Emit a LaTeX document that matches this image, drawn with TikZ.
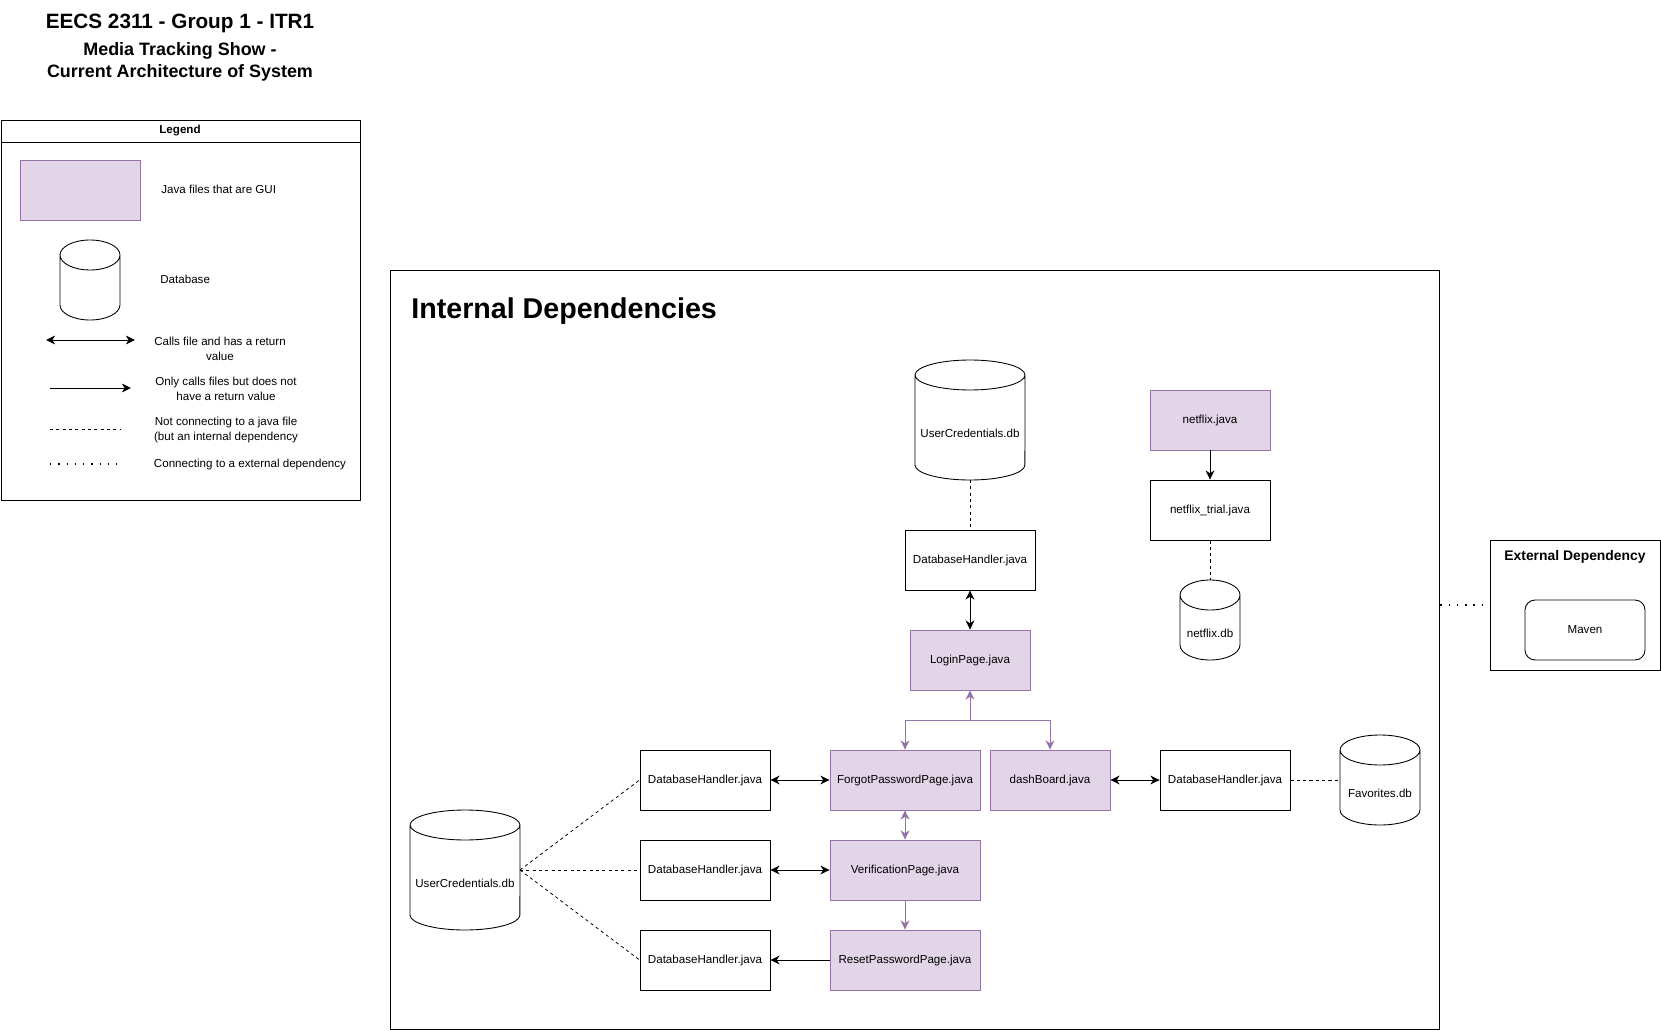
\documentclass[tikz,border=0pt]{standalone}
\usepackage{fontspec}
\setmainfont{Liberation Sans}
\usetikzlibrary{calc}
\usetikzlibrary{arrows.meta}
\usetikzlibrary{positioning}

\definecolor{guifill}{HTML}{E1D5E7}
\definecolor{guiline}{HTML}{9673A6}

\tikzset{
  jfile/.style={draw, line width=0.5pt, minimum width=2.6cm, minimum height=1.2cm, inner sep=1pt, font=\fontsize{6.6}{8}\selectfont},
  gui/.style={jfile, fill=guifill, draw=guiline},
  frame/.style={draw, line width=0.5pt, inner sep=0pt},
  lgtext/.style={font=\fontsize{6.6}{8.5}\selectfont, inner sep=0pt},
  dbbox/.style={rectangle, inner sep=0pt, outer sep=0pt},
  dbline/.style={line width=0.5pt},
  tip/.style={>={Stealth[length=5.2pt, width=5pt, inset=1.6pt]}},
  both/.style={<->, tip, line width=0.55pt},
  one/.style={->, tip, line width=0.55pt},
  pboth/.style={both, draw=guiline},
  pone/.style={one, draw=guiline},
  dashline/.style={line width=0.45pt, dash pattern=on 1.8pt off 1.8pt},
  dotline/.style={line width=0.8pt, dash pattern=on 0.8pt off 3.9pt}
}

% database cylinder: name, centre x, centre y, width, height, label
\newcommand{\dbcyl}[6]{%
  \pgfmathsetmacro{\dbw}{#4*0.02}
  \pgfmathsetmacro{\dbh}{#5*0.02}
  \pgfmathsetmacro{\dbrx}{#4*0.01}
  \node[dbbox, minimum width=\dbw cm, minimum height=\dbh cm] (#1) at (#2,#3) {};
  \draw[dbline] ([yshift=-0.3cm]#1.north west) -- ([yshift=0.3cm]#1.south west)
    arc[start angle=180, end angle=360, x radius=\dbrx cm, y radius=0.3cm]
    -- ([yshift=-0.3cm]#1.north east)
    arc[start angle=0, end angle=180, x radius=\dbrx cm, y radius=0.3cm]
    arc[start angle=180, end angle=360, x radius=\dbrx cm, y radius=0.3cm];
  \node[lgtext] (#1-text) at ([yshift=-0.26cm]#1.center) {#6};
}

\begin{document}
\begin{tikzpicture}[x=0.02cm, y=-0.02cm]
\useasboundingbox (0,0) rectangle (1661,1031);

% title
\node[font=\bfseries\fontsize{11.8}{14}\selectfont] (title) at (180,23) {EECS 2311 - Group 1 - ITR1};
\node[font=\bfseries\fontsize{10.2}{12.5}\selectfont, align=center] (subtitle) at (180,62) {Media Tracking Show -\\Current Architecture of System};

% legend
\node[frame, minimum width=7.18cm, minimum height=7.6cm] (legend) at (180.5,310) {};
\draw[line width=0.5pt] ([yshift=-0.46cm]legend.north west) -- ([yshift=-0.46cm]legend.north east);
\node[font=\bfseries\fontsize{6.6}{8}\selectfont] (legendTitle) at (180,131) {Legend};
\node[gui, minimum width=2.4cm] (lgGui) at (80,190) {};
\node[lgtext, anchor=west] (lgGuiText) at (161,189) {Java files that are GUI};
\dbcyl{lgDb}{90}{280}{60}{80}{}
\node[lgtext, anchor=west] (lgDbText) at (160,279) {Database};
\coordinate (lgBothA) at (46,340);
\coordinate (lgBothB) at (135,340);
\draw[both] (lgBothA) -- (lgBothB);
\node[lgtext, align=center] (lgBothText) at (220,349) {Calls file and has a return\\value};
\coordinate (lgOneA) at (50,388);
\coordinate (lgOneB) at (131,388);
\draw[one] (lgOneA) -- (lgOneB);
\node[lgtext, align=center] (lgOneText) at (226,389) {Only calls files but does not\\have a return value};
\coordinate (lgDashA) at (50,429);
\coordinate (lgDashB) at (120,429);
\draw[dashline] (lgDashA) -- (lgDashB);
\node[lgtext, align=center] (lgDashText) at (226,430) {Not connecting to a java file\\(but an internal dependency};
\coordinate (lgDotA) at (50,464);
\coordinate (lgDotB) at (118,464);
\draw[dotline] (lgDotA) -- (lgDotB);
\node[lgtext] (lgDotText) at (250,464) {Connecting to a external dependency};

% internal dependencies
\node[frame, minimum width=21cm, minimum height=15.2cm] (internal) at (915,650) {};
\node[font=\bfseries\fontsize{16.3}{19}\selectfont, anchor=base west, inner sep=0pt] (internalTitle) at (411,318) {Internal Dependencies};

\dbcyl{ucTop}{970}{420}{110}{120}{UserCredentials.db}
\node[jfile] (dbhTop) at (970,560) {DatabaseHandler.java};
\node[gui, minimum width=2.4cm] (login) at (970,660) {LoginPage.java};

\node[gui, minimum width=2.4cm] (netflix) at (1210,420) {netflix.java};
\node[jfile, minimum width=2.4cm] (netflixTrial) at (1210,510) {netflix\_trial.java};
\dbcyl{netflixDb}{1210}{620}{60}{80}{netflix.db}

\node[gui, minimum width=3cm] (forgot) at (905,780) {ForgotPasswordPage.java};
\node[gui, minimum width=2.4cm] (dash) at (1050,780) {dashBoard.java};
\node[jfile] (dbhFav) at (1225,780) {DatabaseHandler.java};
\dbcyl{favDb}{1380}{780}{80}{90}{Favorites.db}
\node[gui, minimum width=3cm] (verify) at (905,870) {VerificationPage.java};
\node[gui, minimum width=3cm] (reset) at (905,960) {ResetPasswordPage.java};

\node[jfile] (dbhForgot) at (705,780) {DatabaseHandler.java};
\node[jfile] (dbhVerify) at (705,870) {DatabaseHandler.java};
\node[jfile] (dbhReset) at (705,960) {DatabaseHandler.java};
\dbcyl{ucLeft}{465}{870}{110}{120}{UserCredentials.db}

% external dependency
\node[frame, minimum width=3.4cm, minimum height=2.6cm] (ext) at (1575,605) {};
\node[font=\bfseries\fontsize{7.9}{9}\selectfont, anchor=base, inner sep=0pt] (extTitle) at (1575,560) {External Dependency};
\node[jfile, rounded corners=0.2cm, minimum width=2.4cm] (maven) at (1585,630) {Maven};

% connectors
\draw[dashline] (ucTop) -- (dbhTop);
\draw[both] (dbhTop) -- (login);
\draw[one] (netflix) -- (netflixTrial);
\draw[dashline] (netflixTrial) -- (netflixDb);
\coordinate (split) at (970,720);
\draw[pboth] (login) -- (split) -| (forgot);
\draw[pone] (split) -| (dash);
\draw[pboth] (forgot) -- (verify);
\draw[pone] (verify) -- (reset);
\draw[both] (dbhForgot) -- (forgot);
\draw[both] (dbhVerify) -- (verify);
\draw[one] (reset) -- (dbhReset);
\draw[both] (dash) -- (dbhFav);
\draw[dashline] (dbhFav) -- (favDb);
\draw[dashline] (ucLeft.east) -- (dbhForgot.west);
\draw[dashline] (ucLeft.east) -- (dbhVerify.west);
\draw[dashline] (ucLeft.east) -- (dbhReset.west);
\draw[dotline] (ext.west -| internal.east) -- (ext);

\end{tikzpicture}
\end{document}
